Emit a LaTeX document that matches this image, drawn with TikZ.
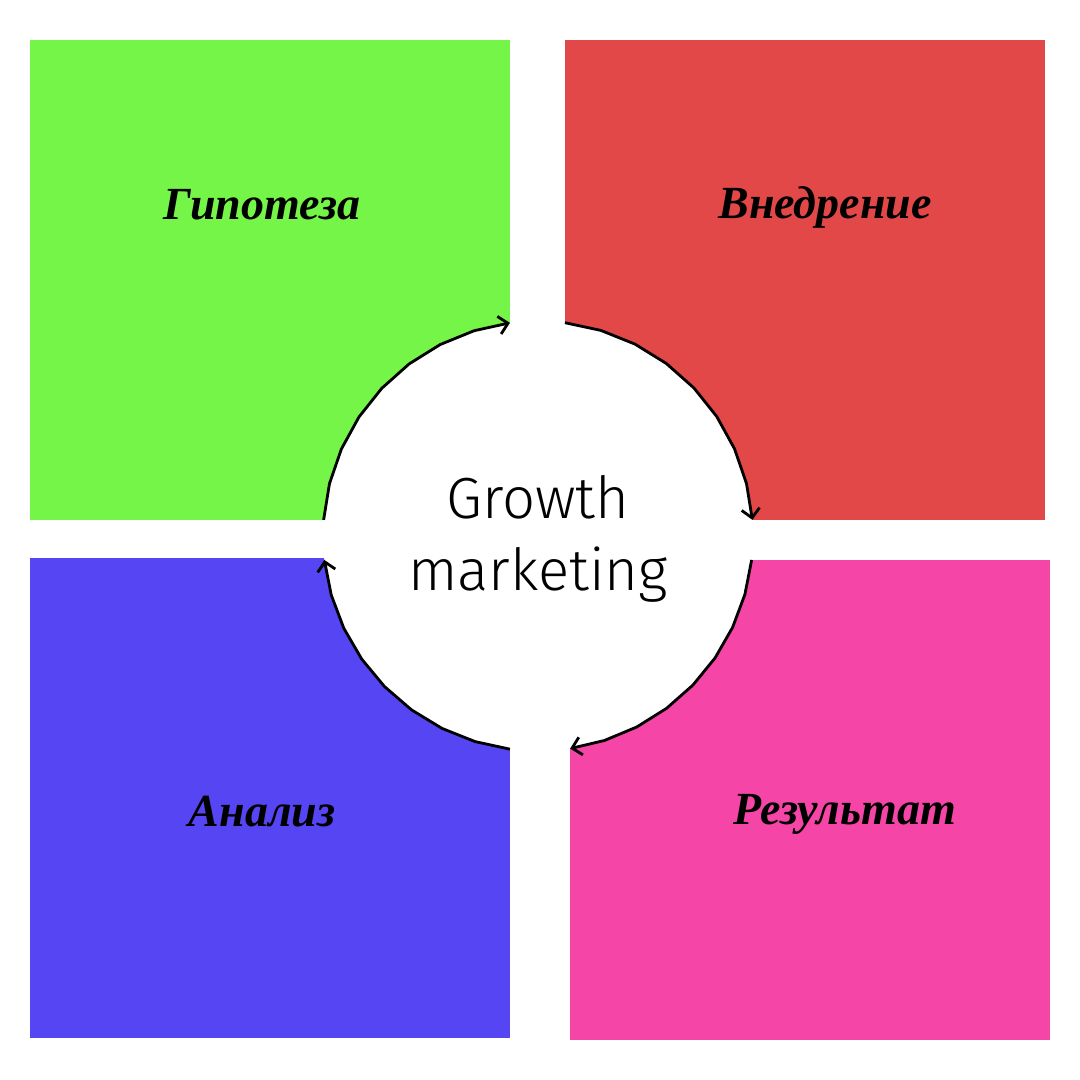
\documentclass[tikz,border=0pt]{standalone}
\usepackage{fontspec}
\usetikzlibrary{arrows.meta}
\newfontfamily\lblfont{Liberation Serif}
\newfontfamily\gmfont{Fira Sans Light}
\definecolor{cgreen}{HTML}{75F547}
\definecolor{cred}{HTML}{E24848}
\definecolor{cblue}{HTML}{5645F2}
\definecolor{cpink}{HTML}{F545A6}
\begin{document}
\begin{tikzpicture}[x=1pt,y=-1pt,
  square/.style={draw=none,minimum width=480pt,minimum height=480pt,inner sep=0pt,outer sep=0pt},
  lbl/.style={font=\lblfont\bfseries\itshape\fontsize{46}{50}\selectfont,text=black,inner sep=0pt},
  cyc/.style={line width=2.8pt,line join=round,-{Straight Barb[length=9pt,width=18pt,line width=2.8pt]}}]
\useasboundingbox (0,0) rectangle (1080,1080);
\fill[white] (0,0) rectangle (1080,1080);
\node[square,fill=cgreen] (sq1) at (270,280) {};
\node[square,fill=cred] (sq2) at (805,280) {};
\node[square,fill=cblue] (sq3) at (270,798) {};
\node[square,fill=cpink] (sq4) at (810,800) {};
\fill[white] (538,536) circle (215);
\draw[cyc] plot[domain=175.7:97.5,samples=9] ({538+215*cos(\x)},{536-215*sin(\x)});
\draw[cyc] plot[domain=82.8:4.3,samples=9] ({538+215*cos(\x)},{536-215*sin(\x)});
\draw[cyc] plot[domain=-6.4:-81.4,samples=9] ({538+215*cos(\x)},{536-215*sin(\x)});
\draw[cyc] plot[domain=-97.5:-173.6,samples=9] ({538+215*cos(\x)},{536-215*sin(\x)});
\node[lbl] (t1) at (262,205) {Гипотеза};
\node[lbl] (t2) at (825,207) {Внедрение};
\node[lbl] (t3) at (262,812) {Анализ};
\node[lbl] (t4) at (845,814) {Результат};
\node[font=\gmfont\fontsize{58}{72}\selectfont,align=center,inner sep=0pt] (gm) at (538,539) {Growth\\marketing};
\end{tikzpicture}
\end{document}
